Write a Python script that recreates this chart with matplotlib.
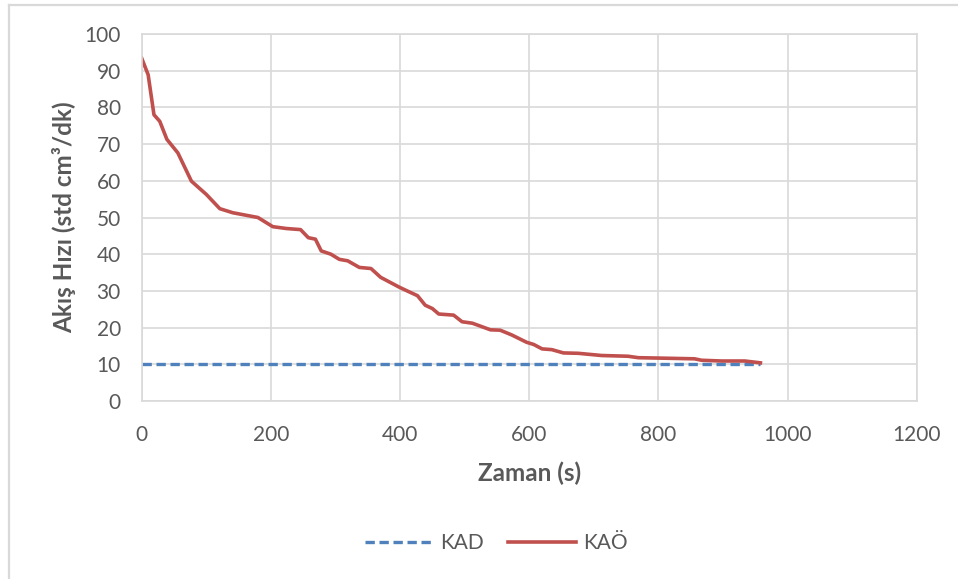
import matplotlib.pyplot as plt
from matplotlib.lines import Line2D

# flow rate vs time
zaman = [0, 10, 19, 28, 39, 56, 77, 100, 121, 141, 180, 203, 224, 246, 258, 269,
         278, 293, 306, 319, 337, 355, 370, 385, 399, 411, 427, 439, 450, 460,
         483, 496, 512, 540, 555, 573, 596, 607, 620, 635, 653, 676, 712, 753,
         769, 800, 856, 867, 898, 934, 958]
kao = [93.4, 88.9, 78.0, 76.2, 71.3, 67.6, 59.9, 56.3, 52.4, 51.3, 50.0, 47.5,
       47.0, 46.7, 44.5, 44.1, 40.9, 40.0, 38.6, 38.2, 36.4, 36.1, 33.7, 32.3,
       31.0, 30.0, 28.7, 26.1, 25.2, 23.7, 23.4, 21.6, 21.2, 19.4, 19.3, 18.0,
       16.0, 15.4, 14.2, 14.0, 13.1, 13.0, 12.4, 12.2, 11.8, 11.7, 11.5, 11.1,
       10.9, 10.9, 10.4]
kad_zaman = [0, 958]
kad = [10, 10]

plt.rcParams['font.family'] = ['Lato', 'DejaVu Sans']
gray = '#595959'

fig = plt.figure(figsize=(9.58, 5.79), dpi=100)
ax = fig.add_axes([0.1479, 0.3074, 0.809, 0.6339])

ax.plot(kad_zaman, kad, color='#4F81BD', linewidth=2.4,
        linestyle=(0, (2.8, 1.4)), label='KAD')
ax.plot(zaman, kao, color='#C0504D', linewidth=2.6, label='KAÖ',
        solid_joinstyle='round')

ax.set_xlim(0, 1200)
ax.set_ylim(0, 100)
ax.set_xticks(range(0, 1201, 200))
ax.set_yticks(range(0, 101, 10))
ax.grid(True, color='#D9D9D9', linewidth=1.2)
ax.set_axisbelow(True)
for s in ax.spines.values():
    s.set_color('#D9D9D9')
    s.set_linewidth(1.2)
ax.tick_params(length=0, labelsize=15, labelcolor=gray)
ax.tick_params(axis='x', pad=17)
ax.tick_params(axis='y', pad=15)

ax.set_xlabel('Zaman (s)', fontsize=17.5, fontweight='bold', color=gray, labelpad=12)
ax.set_ylabel('Akış Hızı (std cm³/dk)', fontsize=17.5, fontweight='bold',
              color=gray, labelpad=6)

fig.legend(loc='center', bbox_to_anchor=(0.518, 0.062), ncol=2, frameon=False,
           fontsize=15, handlelength=3.27, handletextpad=0.35,
           columnspacing=1.15, labelcolor=gray)

# chart frame edges
fig.add_artist(Line2D([0.0094, 1.0], [0.9914, 0.9914], color='#D9D9D9',
                      linewidth=1.6, transform=fig.transFigure))
fig.add_artist(Line2D([0.0094, 0.0094], [0.0, 0.9914], color='#D9D9D9',
                      linewidth=1.6, transform=fig.transFigure))

fig.savefig('out.png', dpi=100)
